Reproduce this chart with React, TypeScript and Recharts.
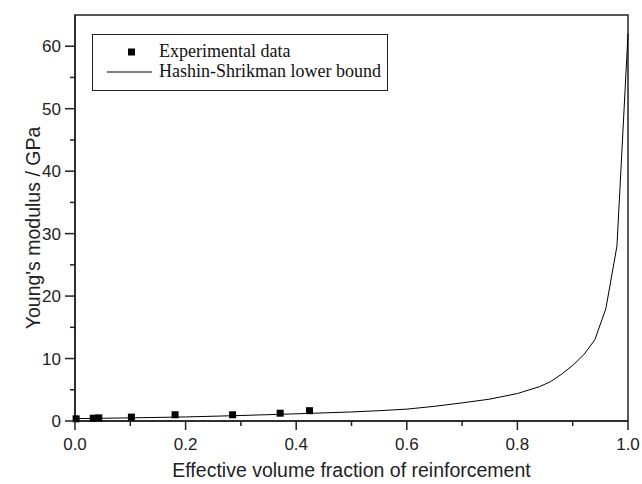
import {
  ComposedChart,
  Line,
  Scatter,
  XAxis,
  YAxis,
  Legend,
  ReferenceArea,
} from "recharts";

// Hashin-Shrikman lower bound
const hsFraction = [0, 0.1, 0.2, 0.3, 0.4, 0.5, 0.55, 0.6, 0.65, 0.7, 0.75, 0.8, 0.84, 0.86, 0.88, 0.9, 0.92, 0.94, 0.96, 0.98, 1.0];
const hsModulus = [0.38, 0.5, 0.65, 0.88, 1.15, 1.45, 1.65, 1.9, 2.35, 2.9, 3.5, 4.4, 5.5, 6.3, 7.5, 8.9, 10.6, 13.0, 18.0, 28.0, 62.0];

// experimental points
const expFraction = [0.002, 0.033, 0.043, 0.102, 0.181, 0.285, 0.371, 0.424];
const expModulus = [0.35, 0.45, 0.5, 0.62, 1.0, 1.0, 1.25, 1.65];

const xTicks = [0, 0.1, 0.2, 0.3, 0.4, 0.5, 0.6, 0.7, 0.8, 0.9, 1.0];
const yTicks = [0, 5, 10, 15, 20, 25, 30, 35, 40, 45, 50, 55, 60];

const hsData = hsFraction.map((x, i) => ({ x, hs: hsModulus[i] }));
const expData = expFraction.map((x, i) => ({ x, exp: expModulus[i] }));

const INK = "#222";
const SANS = "'Liberation Sans', Arial, sans-serif";
const SERIF = "'Liberation Serif', 'Times New Roman', serif";

function XTick(props: any) {
  const { x, y, payload } = props;
  const major = Math.round(payload.value * 10) % 2 === 0;
  return (
    <g>
      <line x1={x} x2={x} y1={y} y2={y + (major ? 9 : 5)} stroke={INK} strokeWidth={1.5} />
      {major && (
        <text x={x} y={y + 29} textAnchor="middle" fontSize={17} fontFamily={SANS} fill={INK}>
          {payload.value.toFixed(1)}
        </text>
      )}
    </g>
  );
}

function YTick(props: any) {
  const { x, y, payload } = props;
  const major = payload.value % 10 === 0;
  return (
    <g>
      <line x1={x - (major ? 10 : 5)} x2={x} y1={y} y2={y} stroke={INK} strokeWidth={1.5} />
      {major && (
        <text x={x - 14} y={y + 6} textAnchor="end" fontSize={17} fontFamily={SANS} fill={INK}>
          {payload.value}
        </text>
      )}
    </g>
  );
}

function Square(props: any) {
  const { cx, cy } = props;
  return <rect x={cx - 3.5} y={cy - 3.5} width={7} height={7} fill="#000" />;
}

function LegendBox() {
  return (
    <div
      style={{
        position: "relative",
        width: 296,
        height: 57,
        boxSizing: "border-box",
        border: `1.5px solid ${INK}`,
        background: "#fff",
        fontFamily: SERIF,
        fontSize: 18,
        color: "#111",
      }}
    >
      <svg width={70} height={55} style={{ position: "absolute", left: 0, top: 0 }}>
        <rect x={35} y={13.5} width={7} height={7} fill="#000" />
        <line x1={14} x2={59} y1={37} y2={37} stroke="#000" strokeWidth={1} />
      </svg>
      <div style={{ position: "absolute", left: 66, top: 6, lineHeight: "20px", whiteSpace: "nowrap" }}>
        Experimental data
      </div>
      <div style={{ position: "absolute", left: 66, top: 26, lineHeight: "20px", whiteSpace: "nowrap" }}>
        Hashin-Shrikman lower bound
      </div>
    </div>
  );
}

function YTitle() {
  return (
    <text
      x={40}
      y={228}
      transform="rotate(-90 40 228)"
      textAnchor="middle"
      fontSize={19.5}
      fontFamily={SANS}
      fill={INK}
    >
      Young's modulus / GPa
    </text>
  );
}

export default function App() {
  return (
    <div style={{ position: "absolute", left: 0, top: 0, width: 642, height: 484, background: "#fff" }}>
      <ComposedChart width={642} height={484} margin={{ top: 15, right: 14, bottom: 0, left: 0 }}>
        <XAxis
          dataKey="x"
          type="number"
          domain={[0, 1]}
          ticks={xTicks}
          interval={0}
          height={63}
          tickSize={0}
          tickMargin={0}
          tickLine={false}
          tick={<XTick />}
          axisLine={{ stroke: INK, strokeWidth: 1.5 }}
          allowDuplicatedCategory={false}
          label={{
            value: "Effective volume fraction of reinforcement",
            position: "insideBottom",
            offset: 7,
            fontSize: 19.5,
            fontFamily: SANS,
            fill: INK,
          }}
        />
        <YAxis
          type="number"
          domain={[0, 65]}
          ticks={yTicks}
          interval={0}
          width={75}
          tickSize={0}
          tickMargin={0}
          tickLine={false}
          tick={<YTick />}
          axisLine={{ stroke: INK, strokeWidth: 1.5 }}
          label={{ content: <YTitle /> }}
        />
        <ReferenceArea x1={0} x2={1} y1={0} y2={65} fill="none" stroke={INK} strokeWidth={1.5} ifOverflow="visible" />
        <Line
          data={hsData}
          dataKey="hs"
          type="linear"
          stroke="#000"
          strokeWidth={1}
          dot={false}
          activeDot={false}
          isAnimationActive={false}
          name="Hashin-Shrikman lower bound"
        />
        <Scatter
          data={expData}
          dataKey="exp"
          shape={<Square />}
          isAnimationActive={false}
          name="Experimental data"
        />
        <Legend
          layout="vertical"
          align="center"
          verticalAlign="middle"
          content={<LegendBox />}
          wrapperStyle={{ position: "absolute", left: 92, top: 34, width: 296, height: 57 }}
        />
      </ComposedChart>
    </div>
  );
}
